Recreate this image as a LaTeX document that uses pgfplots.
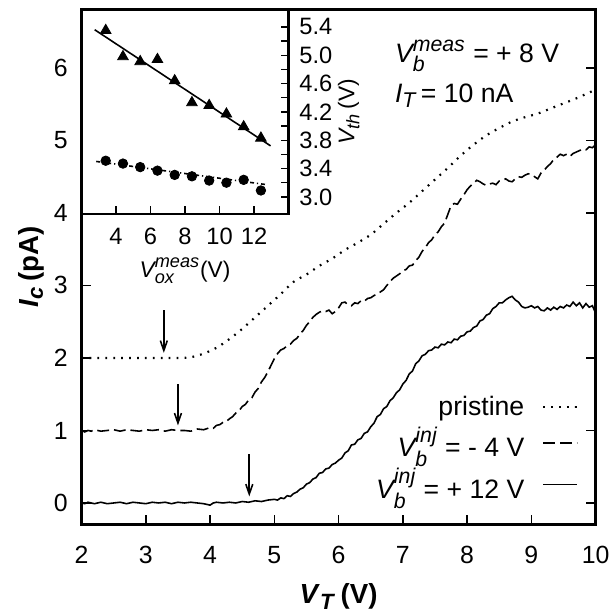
\documentclass[border=0pt]{standalone}
\usepackage{fontspec}
\setmainfont{Liberation Sans}
\usepackage{amsmath}
\usepackage{pgfplots}
\pgfplotsset{compat=1.18}
\usetikzlibrary{arrows.meta}
\renewcommand{\defaultscriptratio}{0.8}

\newcommand{\vb}[1]{$\textit{V}_{\textit{b}}^{\textit{#1}}$}

\begin{document}
\begin{tikzpicture}
\begin{axis}[
    name=main,
    scale only axis, width=259.6bp, height=260bp,
    xmin=2, xmax=10, ymin=-0.3, ymax=6.8,
    xtick={2,...,10}, ytick={0,...,6},
    xtick pos=bottom, ytick pos=both, yticklabel pos=left,
    tick align=inside, major tick length=5bp,
    axis line style={line width=1.5bp},
    every tick/.style={black, line width=0.7bp},
    /pgf/number format/assume math mode=true,
    tick label style={font=\fontsize{12.6}{14}\selectfont},
    xticklabel style={yshift=-7.5bp},
    yticklabel style={xshift=-3.5bp},
    xlabel={\textbf{\textit{V}}$_{\textbf{\textit{T}}}$\,\textbf{(V)}},
    ylabel={\textbf{\textit{I}}$_{\textbf{\textit{c}}}$\,\textbf{(pA)}},
    label style={font=\fontsize{14}{16}\selectfont},
    xlabel style={yshift=-3bp},
    ylabel style={yshift=-2bp},
    legend style={draw=none, fill=none, font=\fontsize{13.5}{16}\selectfont,
      at={(0.978,0.03)}, anchor=south east, row sep=0.5bp,
      /tikz/every odd column/.append style={column sep=7bp}},
    legend cell align=right, legend plot pos=right,
  ]
  \addplot[black, line width=1.1bp, dash pattern=on 0.9bp off 3.1bp, smooth] coordinates {
    (2.0,2.00) (2.5,2.00) (3.0,2.00) (3.5,2.00) (3.7,2.01) (3.9,2.06) (4.1,2.14)
    (4.3,2.26) (4.5,2.40) (4.7,2.56) (4.9,2.72) (5.1,2.88) (5.3,3.05) (5.5,3.15)
    (5.7,3.27) (5.9,3.37) (6.1,3.49) (6.3,3.59) (6.5,3.70) (6.7,3.85) (6.9,4.00)
    (7.1,4.14) (7.3,4.30) (7.5,4.46) (7.7,4.62) (7.9,4.79) (8.1,4.94) (8.3,5.07)
    (8.5,5.17) (8.7,5.26) (8.9,5.32) (9.1,5.37) (9.3,5.44) (9.5,5.51) (9.7,5.58)
    (9.9,5.66) (10.0,5.70)};
  \addlegendentry{pristine}
  \addplot[black, line width=0.8bp, dash pattern=on 6bp off 2.5bp] coordinates {
    (2.00,1.00) (2.05,0.98) (2.10,1.00) (2.15,0.99) (2.20,1.01) (2.30,0.99) (2.40,1.00)
    (2.50,1.01) (2.60,0.99) (2.70,1.01) (2.80,1.00) (2.90,0.99) (3.00,1.01) (3.10,1.00)
    (3.20,1.01) (3.30,0.99) (3.40,1.01) (3.50,1.00) (3.60,1.00) (3.70,0.99) (3.80,1.02)
    (3.90,1.01) (4.00,1.04) (4.05,1.03) (4.10,1.07) (4.15,1.08) (4.20,1.11) (4.25,1.12)
    (4.30,1.16) (4.35,1.19) (4.40,1.24) (4.45,1.27) (4.50,1.33) (4.55,1.36) (4.60,1.42)
    (4.65,1.45) (4.70,1.53) (4.75,1.58) (4.80,1.67) (4.85,1.73) (4.90,1.81) (4.95,1.90)
    (5.00,1.99) (5.05,2.06) (5.10,2.11) (5.15,2.13) (5.20,2.17) (5.25,2.19) (5.30,2.24)
    (5.35,2.27) (5.40,2.33) (5.45,2.38) (5.50,2.45) (5.55,2.50) (5.60,2.56) (5.65,2.60)
    (5.70,2.63) (5.75,2.65) (5.80,2.64) (5.85,2.66) (5.90,2.61) (5.95,2.64) (6.00,2.69)
    (6.05,2.76) (6.10,2.77) (6.15,2.73) (6.20,2.72) (6.25,2.76) (6.30,2.75) (6.35,2.79)
    (6.40,2.78) (6.45,2.82) (6.50,2.83) (6.55,2.86) (6.60,2.88) (6.65,2.91) (6.70,2.94)
    (6.75,3.00) (6.80,3.05) (6.85,3.10) (6.90,3.13) (6.95,3.16) (7.00,3.20) (7.05,3.22)
    (7.10,3.27) (7.15,3.28) (7.20,3.34) (7.25,3.39) (7.30,3.47) (7.35,3.52) (7.40,3.59)
    (7.45,3.63) (7.50,3.70) (7.55,3.74) (7.60,3.81) (7.65,3.86) (7.70,3.98) (7.75,4.10)
    (7.80,4.13) (7.85,4.12) (7.90,4.19) (7.95,4.25) (8.00,4.32) (8.05,4.37) (8.10,4.41)
    (8.15,4.45) (8.20,4.43) (8.25,4.40) (8.30,4.38) (8.35,4.40) (8.40,4.41) (8.45,4.39)
    (8.50,4.44) (8.55,4.45) (8.60,4.47) (8.65,4.44) (8.70,4.43) (8.75,4.47) (8.80,4.50)
    (8.85,4.49) (8.90,4.52) (8.95,4.54) (9.00,4.53) (9.05,4.50) (9.10,4.47) (9.15,4.55)
    (9.20,4.59) (9.25,4.64) (9.30,4.68) (9.35,4.74) (9.40,4.77) (9.45,4.81) (9.50,4.79)
    (9.55,4.81) (9.60,4.78) (9.65,4.82) (9.70,4.84) (9.75,4.86) (9.80,4.88) (9.85,4.87)
    (9.90,4.91) (9.95,4.90) (10.00,4.94)};
  \addlegendentry{\vb{inj} = - 4 V}
  \addplot[black, line width=0.8bp] coordinates {
    (2.00,0.00) (2.05,-0.01) (2.10,0.01) (2.15,0.00) (2.20,-0.01) (2.30,0.01) (2.40,-0.01)
    (2.50,0.00) (2.60,0.01) (2.70,-0.01) (2.80,0.01) (2.90,0.00) (3.00,-0.01) (3.10,0.01)
    (3.20,0.00) (3.30,0.01) (3.40,-0.01) (3.50,0.01) (3.60,0.00) (3.70,0.01) (3.80,0.00)
    (3.90,-0.01) (4.00,-0.03) (4.05,0.00) (4.10,0.01) (4.20,0.00) (4.30,0.01) (4.40,0.00)
    (4.50,0.02) (4.60,0.01) (4.70,0.03) (4.80,0.02) (4.90,0.04) (5.00,0.05) (5.05,0.04)
    (5.10,0.07) (5.15,0.06) (5.20,0.10) (5.25,0.09) (5.30,0.13) (5.35,0.15) (5.40,0.19)
    (5.45,0.21) (5.50,0.26) (5.55,0.28) (5.60,0.33) (5.65,0.35) (5.70,0.41) (5.75,0.42)
    (5.80,0.47) (5.85,0.48) (5.90,0.53) (5.95,0.55) (6.00,0.59) (6.05,0.62) (6.10,0.69)
    (6.15,0.72) (6.20,0.80) (6.25,0.81) (6.30,0.87) (6.35,0.89) (6.40,0.96) (6.45,0.98)
    (6.50,1.05) (6.55,1.10) (6.60,1.19) (6.65,1.22) (6.70,1.30) (6.75,1.33) (6.80,1.41)
    (6.85,1.45) (6.90,1.52) (6.95,1.56) (7.00,1.64) (7.05,1.69) (7.10,1.78) (7.15,1.82)
    (7.20,1.92) (7.25,1.96) (7.30,2.03) (7.35,2.05) (7.40,2.10) (7.45,2.11) (7.50,2.15)
    (7.55,2.14) (7.60,2.19) (7.65,2.18) (7.70,2.22) (7.75,2.21) (7.80,2.26) (7.85,2.25)
    (7.90,2.30) (7.95,2.31) (8.00,2.36) (8.05,2.37) (8.10,2.42) (8.15,2.44) (8.20,2.51)
    (8.25,2.53) (8.30,2.59) (8.35,2.61) (8.40,2.68) (8.45,2.71) (8.50,2.76) (8.55,2.76)
    (8.60,2.80) (8.65,2.83) (8.70,2.85) (8.75,2.80) (8.80,2.77) (8.85,2.71) (8.90,2.69)
    (8.95,2.70) (9.00,2.72) (9.05,2.69) (9.10,2.71) (9.15,2.66) (9.20,2.65) (9.25,2.69)
    (9.30,2.66) (9.35,2.70) (9.40,2.67) (9.45,2.71) (9.50,2.69) (9.55,2.73) (9.60,2.71)
    (9.65,2.77) (9.70,2.72) (9.75,2.76) (9.80,2.69) (9.85,2.75) (9.90,2.70) (9.95,2.72)
    (10.00,2.62)};
  \addlegendentry{\vb{inj} = + 12 V}
  % arrows marking the onset of each curve
  \draw[line width=0.8bp, -{Straight Barb[length=5bp,width=3.5bp]}] (axis cs:3.28,2.66) -- (axis cs:3.28,2.07);
  \draw[line width=0.8bp, -{Straight Barb[length=5bp,width=3.5bp]}] (axis cs:3.50,1.64) -- (axis cs:3.50,1.07);
  \draw[line width=0.8bp, -{Straight Barb[length=5bp,width=3.5bp]}] (axis cs:4.61,0.67) -- (axis cs:4.61,0.09);
  \node[anchor=base west, font=\fontsize{13.5}{16}\selectfont] at (axis cs:6.77,6.08) {\vb{meas} = + 8 V};
  \node[anchor=base west, font=\fontsize{13.5}{16}\selectfont] at (axis cs:6.77,5.52) {$\textit{I}_{\textit{T}}$\,= 10 nA};
\end{axis}

\begin{axis}[
    at={(main.north west)}, anchor=north west,
    scale only axis, width=104.5bp, height=103bp,
    xmin=2, xmax=14, ymin=2.76, ymax=5.64,
    xtick={4,6,8,10,12},
    ytick={3.0,3.4,3.8,4.2,4.6,5.0,5.4},
    minor ytick={3.2,3.6,4.0,4.4,4.8,5.2},
    xtick pos=bottom, ytick pos=right, yticklabel pos=right,
    tick align=inside, major tick length=4bp, minor tick length=4bp,
    axis line style={line width=1.2bp},
    every tick/.style={black, line width=0.7bp},
    axis background/.style={fill=white},
    /pgf/number format/assume math mode=true,
    yticklabel style={/pgf/number format/fixed, /pgf/number format/fixed zerofill,
      /pgf/number format/precision=1, xshift=2bp},
    tick label style={font=\fontsize{12}{14}\selectfont},
    xticklabel style={yshift=-3.5bp},
    xlabel={$\textit{V}_{\textit{ox}}^{\textit{meas}}$(V)},
    ylabel={$\textit{V}_{\textit{th}}$\,(V)},
    label style={font=\fontsize{11.5}{13}\selectfont},
    xlabel style={yshift=0bp},
    ylabel style={yshift=4bp},
  ]
  \addplot[only marks, mark=triangle*, mark size=3.1bp, black] coordinates {
    (3.4,5.35) (4.4,4.98) (5.4,4.91) (6.4,4.94) (7.4,4.64) (8.4,4.33)
    (9.4,4.29) (10.4,4.17) (11.4,3.99) (12.4,3.83)};
  \addplot[black, line width=0.8bp] coordinates {(2.76,5.36) (12.96,3.72)};
  \addplot[only marks, mark=*, mark size=2.4bp, black] coordinates {
    (3.4,3.51) (4.4,3.47) (5.4,3.42) (6.4,3.37) (7.4,3.31) (8.4,3.29)
    (9.4,3.23) (10.4,3.20) (11.4,3.24) (12.4,3.09)};
  \addplot[black, line width=0.8bp, dash pattern=on 2bp off 1.5bp on 0.6bp off 1.5bp] coordinates {(2.85,3.50) (12.8,3.17)};
\end{axis}
\path ([xshift=-41.2bp,yshift=5bp]main.north west) rectangle ([xshift=7.2bp,yshift=-42.5bp]main.south east);
\end{tikzpicture}
\end{document}
